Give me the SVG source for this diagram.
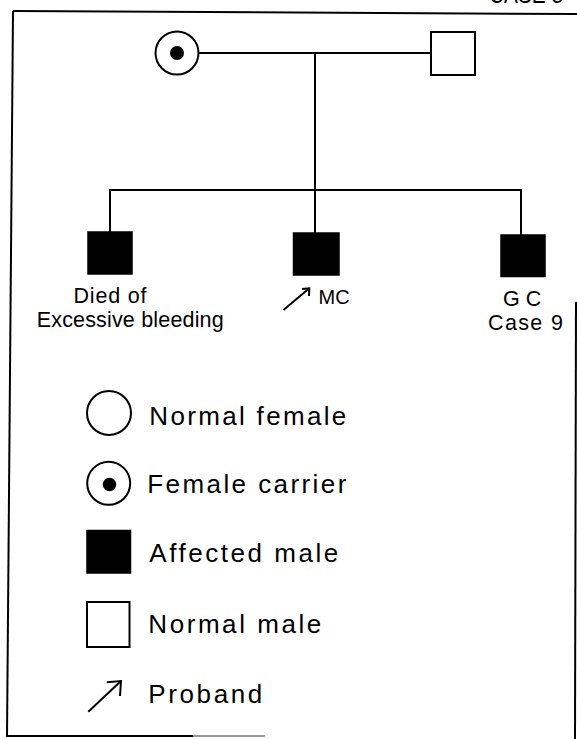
<svg xmlns="http://www.w3.org/2000/svg" width="577" height="739" viewBox="0 0 577 739">
<style>
.ln{stroke:#000;stroke-width:2;fill:none;stroke-linecap:square}
.fr{stroke:#000;stroke-width:2;fill:none}
.open{fill:#fff;stroke:#000;stroke-width:2}
.aff{fill:#000;stroke:#000;stroke-width:1.5}
.dot{fill:#000}
.lab{font-family:"Liberation Sans","DejaVu Sans",Arial,sans-serif;font-size:21.5px;fill:#000}
.leg{font-family:"Liberation Sans","DejaVu Sans",Arial,sans-serif;font-size:26px;fill:#000}
.arr{stroke:#000;stroke-width:2;fill:none;stroke-linejoin:miter}
</style>
<rect width="577" height="739" fill="#fff"/>
<g id="frame">
<line class="fr" x1="13" y1="11" x2="577" y2="14"/>
<line class="fr" x1="13" y1="11" x2="7" y2="737"/>
<line class="fr" x1="6" y1="736" x2="193" y2="736"/>
<line x1="193" y1="736" x2="265" y2="736" stroke="#999" stroke-width="2"/>
<line class="fr" x1="576" y1="302" x2="575" y2="739"/>
</g>
<text class="leg" x="489" y="3" textLength="74" lengthAdjust="spacingAndGlyphs">CASE 8</text>
<g id="connectors">
<line class="ln" x1="199" y1="53" x2="431" y2="53"/>
<line class="ln" x1="315" y1="53" x2="315" y2="190"/>
<line class="ln" x1="110" y1="190" x2="521" y2="190"/>
<line class="ln" x1="110" y1="190" x2="110" y2="232"/>
<line class="ln" x1="315" y1="190" x2="315" y2="233"/>
<line class="ln" x1="521" y1="190" x2="521" y2="235"/>
</g>
<g id="mother">
<circle class="open" cx="177" cy="53" r="21.5"/>
<circle class="dot" cx="177" cy="53" r="7"/>
</g>
<g id="father">
<rect class="open" x="431" y="32" width="44" height="43"/>
</g>
<g id="son1">
<rect class="aff" x="88" y="232" width="44" height="42"/>
<text class="lab" x="73.5" y="303" textLength="73" lengthAdjust="spacing">Died of</text>
<text class="lab" x="36.7" y="327" textLength="187" lengthAdjust="spacing">Excessive bleeding</text>
</g>
<g id="son2-MC">
<rect class="aff" x="293.5" y="233" width="45.5" height="42"/>
<line class="arr" x1="283.5" y1="310" x2="309.3" y2="288.3"/>
<polyline class="arr" points="302,289 309.3,288.3 309,296"/>
<text class="lab" x="318.5" y="304" style="font-size:20px">MC</text>
</g>
<g id="son3-GC">
<rect class="aff" x="501" y="235" width="44" height="41.5"/>
<text class="lab" x="503" y="306" xml:space="preserve">G C</text>
<text class="lab" x="488" y="330" textLength="75" lengthAdjust="spacing">Case 9</text>
</g>
<g id="legend-normal-female">
<circle class="open" cx="109" cy="413" r="22"/>
<text class="leg" x="149.3" y="425" textLength="197" lengthAdjust="spacing">Normal female</text>
</g>
<g id="legend-female-carrier">
<circle class="open" cx="108.7" cy="483.3" r="21.5"/>
<circle class="dot" cx="109.5" cy="484.5" r="6.7"/>
<text class="leg" x="147.3" y="493.3" textLength="199" lengthAdjust="spacing">Female carrier</text>
</g>
<g id="legend-affected-male">
<rect class="aff" x="87" y="530.5" width="43.5" height="42.5"/>
<text class="leg" x="149.3" y="561.7" textLength="189" lengthAdjust="spacing">Affected male</text>
</g>
<g id="legend-normal-male">
<rect class="open" x="87" y="602" width="42.5" height="45"/>
<text class="leg" x="148.3" y="633.3" textLength="173" lengthAdjust="spacing">Normal male</text>
</g>
<g id="legend-proband">
<line class="arr" x1="88.3" y1="711.7" x2="121" y2="681"/>
<polyline class="arr" points="106.7,682.3 121,681 120,696"/>
<text class="leg" x="148.3" y="703.3" textLength="114" lengthAdjust="spacing">Proband</text>
</g>
</svg>
